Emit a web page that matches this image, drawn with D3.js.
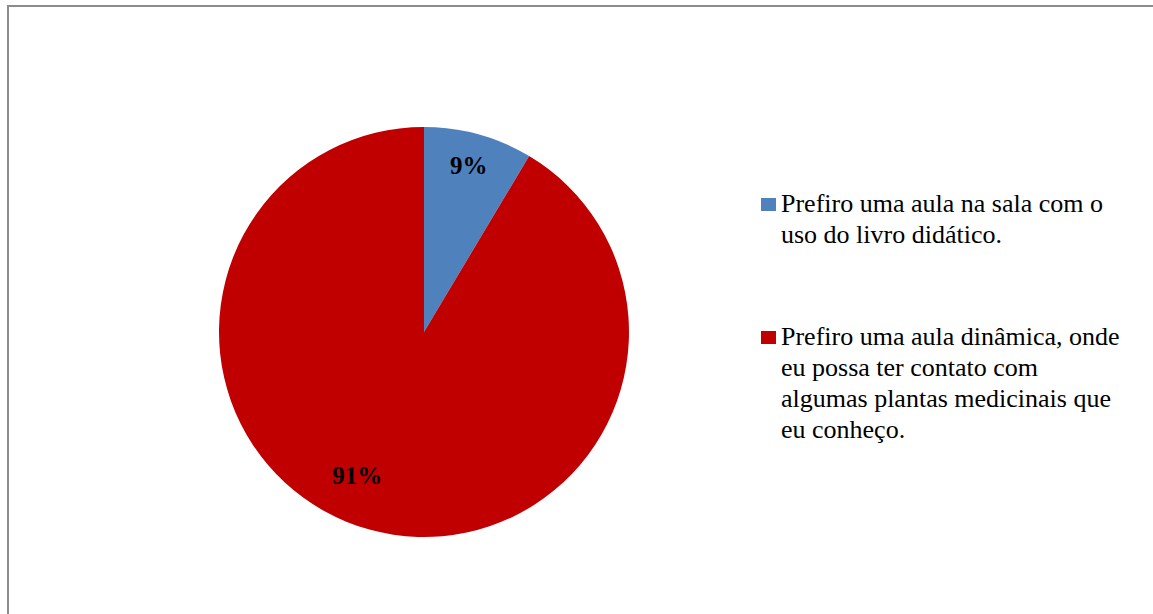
<!DOCTYPE html>
<html lang="pt">
<head>
    <meta charset="UTF-8">
    <title>Pie chart</title>
    <script src="https://cdn.jsdelivr.net/npm/d3@7/dist/d3.min.js"></script>
    <style>
        body { margin: 0; padding: 0; background: #fff; }
        svg { display: block; }
        .serif { font-family: "Liberation Serif", "Times New Roman", serif; }
    </style>
</head>
<body>
<div id="chart"></div>
<script>
    // Answers (counts) and their legend text
    const categories = [
        "Prefiro uma aula na sala com o uso do livro didático.",
        "Prefiro uma aula dinâmica, onde eu possa ter contato com algumas plantas medicinais que eu conheço."
    ];
    const legendLines = [
        ["Prefiro uma aula na sala com o", "uso do livro didático."],
        ["Prefiro uma aula dinâmica, onde", "eu possa ter contato com", "algumas plantas medicinais que", "eu conheço."]
    ];
    const values = [3, 32];
    const colors = ["#4F81BD", "#C00000"];

    const width = 1153;
    const height = 614;
    const cx = 424, cy = 332, radius = 205;

    const svg = d3.select("#chart").append("svg")
        .attr("width", width)
        .attr("height", height);

    // outer frame (clipped on the right and bottom like the screenshot)
    svg.append("rect")
        .attr("x", 8).attr("y", 6)
        .attr("width", width + 20).attr("height", height + 20)
        .attr("fill", "none")
        .attr("stroke", "#8c8c8c")
        .attr("stroke-width", 2);

    const pie = d3.pie().sort(null).value(d => d);
    const arcs = pie(values);
    const total = d3.sum(values);

    const arc = d3.arc().innerRadius(0).outerRadius(radius);
    const labelArc = d3.arc().innerRadius(168).outerRadius(168);

    const g = svg.append("g").attr("transform", `translate(${cx},${cy})`);

    g.selectAll("path")
        .data(arcs)
        .join("path")
        .attr("d", arc)
        .attr("fill", (d, i) => colors[i]);

    // Excel-ish "best fit" nudges for the labels
    const nudge = [[0, -5], [-22, -19]];

    g.selectAll("text")
        .data(arcs)
        .join("text")
        .attr("class", "serif")
        .attr("transform", (d, i) => {
            const [x, y] = labelArc.centroid(d);
            return `translate(${x + nudge[i][0]},${y + nudge[i][1]})`;
        })
        .attr("text-anchor", "middle")
        .attr("dy", "0.35em")
        .attr("font-size", 25)
        .attr("font-weight", "bold")
        .attr("fill", "#000")
        .text(d => Math.round(d.data / total * 100) + "%");

    // legend
    const legendTop = [198, 331];
    const legend = svg.append("g");
    categories.forEach((c, i) => {
        const item = legend.append("g").attr("transform", `translate(761,${legendTop[i]})`);
        item.append("rect")
            .attr("width", 15).attr("height", 13)
            .attr("fill", colors[i]);
        item.append("text")
            .attr("class", "serif")
            .attr("y", 14)
            .attr("font-size", 26)
            .attr("fill", "#000")
            .selectAll("tspan")
            .data(legendLines[i])
            .join("tspan")
            .attr("x", 20)
            .attr("dy", (d, j) => j ? 31 : 0)
            .text(d => d);
    });
</script>
</body>
</html>
